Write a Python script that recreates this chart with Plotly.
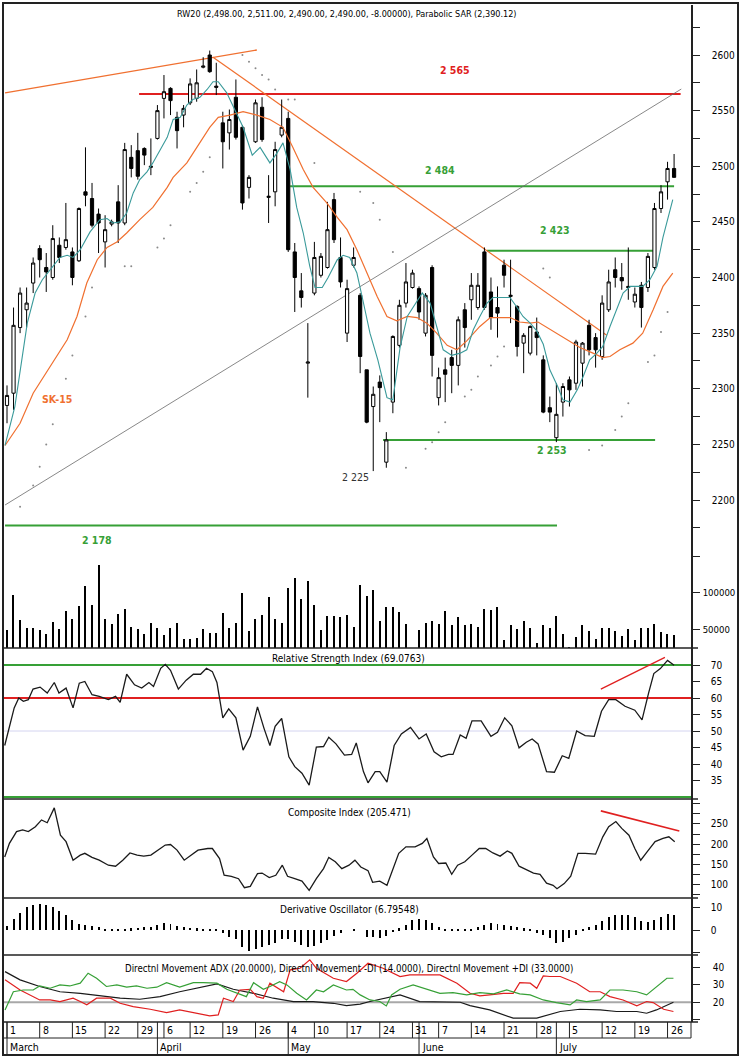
import plotly.graph_objects as go
import pandas as pd

# ---------------------------------------------------------------- data
holidays = ["2010-04-02", "2010-04-05", "2010-05-03", "2010-06-03"]
dates = [d for d in pd.bdate_range("2010-03-01", "2010-07-27")
         if d.strftime("%Y-%m-%d") not in holidays]
day_idx = list(range(len(dates)))

open_ = [2285, 2296, 2355, 2371, 2395, 2426, 2409, 2400, 2429, 2427,
         2423, 2415, 2477, 2471, 2457, 2432, 2448, 2468, 2449, 2508,
         2514, 2516, 2499, 2525, 2561, 2570, 2544, 2546, 2557, 2561,
         2589, 2600, 2572, 2539, 2530, 2562, 2535, 2481, 2522, 2553,
         2472, 2477, 2528, 2543, 2423, 2388, 2323, 2386, 2402, 2409,
         2470, 2418, 2350, 2411, 2384, 2317, 2284, 2306, 2234, 2288,
         2339, 2377, 2391, 2390, 2350, 2409, 2292, 2317, 2328, 2321,
         2371, 2380, 2373, 2423, 2387, 2373, 2411, 2383, 2374, 2341,
         2332, 2351, 2326, 2283, 2256, 2288, 2308, 2305, 2323, 2357,
         2346, 2329, 2371, 2407, 2400, 2392, 2378, 2393, 2391, 2409,
         2462, 2486, 2498]
high = [2303, 2373, 2391, 2391, 2418, 2429, 2422, 2447, 2436, 2467,
        2427, 2463, 2517, 2485, 2462, 2456, 2452, 2483, 2521, 2519,
        2530, 2517, 2525, 2555, 2582, 2571, 2549, 2555, 2579, 2587,
        2598, 2604, 2593, 2549, 2551, 2578, 2537, 2492, 2560, 2562,
        2492, 2522, 2560, 2549, 2431, 2404, 2359, 2432, 2422, 2468,
        2476, 2436, 2398, 2427, 2386, 2317, 2302, 2312, 2261, 2348,
        2380, 2413, 2407, 2392, 2386, 2411, 2319, 2328, 2335, 2365,
        2377, 2404, 2404, 2427, 2400, 2392, 2416, 2416, 2375, 2350,
        2357, 2364, 2330, 2293, 2305, 2305, 2311, 2344, 2342, 2362,
        2350, 2384, 2407, 2418, 2413, 2427, 2391, 2396, 2422, 2467,
        2483, 2504, 2511]
low = [2269, 2281, 2350, 2355, 2386, 2400, 2387, 2398, 2413, 2425,
       2393, 2414, 2464, 2445, 2422, 2409, 2446, 2431, 2447, 2490,
       2488, 2501, 2492, 2524, 2543, 2546, 2516, 2535, 2555, 2558,
       2588, 2584, 2564, 2498, 2515, 2524, 2461, 2471, 2521, 2522,
       2449, 2464, 2526, 2423, 2369, 2373, 2292, 2384, 2400, 2408,
       2431, 2391, 2342, 2409, 2314, 2269, 2226, 2270, 2229, 2278,
       2337, 2373, 2390, 2362, 2347, 2311, 2285, 2288, 2296, 2303,
       2337, 2362, 2371, 2371, 2353, 2346, 2391, 2359, 2329, 2314,
       2330, 2330, 2278, 2270, 2252, 2275, 2284, 2299, 2302, 2330,
       2319, 2326, 2369, 2391, 2389, 2380, 2373, 2355, 2387, 2407,
       2458, 2470, 2490]
close = [2294, 2357, 2386, 2377, 2413, 2416, 2405, 2435, 2418, 2434,
         2400, 2462, 2474, 2447, 2449, 2443, 2450, 2449, 2515, 2498,
         2491, 2510, 2500, 2550, 2567, 2559, 2532, 2552, 2574, 2575,
         2590, 2585, 2571, 2522, 2542, 2526, 2467, 2490, 2557, 2524,
         2473, 2515, 2535, 2425, 2400, 2382, 2324, 2418, 2419, 2443,
         2434, 2396, 2390, 2418, 2329, 2270, 2295, 2301, 2254, 2347,
         2375, 2396, 2404, 2369, 2384, 2330, 2310, 2313, 2321, 2362,
         2355, 2393, 2393, 2373, 2364, 2368, 2402, 2384, 2338, 2348,
         2356, 2346, 2279, 2279, 2277, 2302, 2299, 2342, 2341, 2335,
         2335, 2377, 2396, 2400, 2397, 2391, 2385, 2373, 2419, 2462,
         2477, 2498, 2490]

volume = [49100, 96800, 62700, 52300, 52300, 49100, 43600, 60500, 50500, 75000,
          64100, 81800, 109100, 83200, 137700, 64100, 57300, 70900, 77700, 53600,
          50500, 43600, 59100, 52300, 42300, 52300, 59100, 36800, 36800, 38600,
          50500, 45500, 45500, 72700, 52300, 59100, 99100, 48200, 64100, 69500,
          93600, 64100, 59100, 105900, 119500, 91400, 115900, 83200, 49100, 68200,
          68600, 67300, 69500, 53600, 110500, 95500, 103600, 61400, 80000, 80900,
          73200, 57300, 25000, 49100, 59100, 61400, 57300, 75000, 55500, 66400,
          55900, 56800, 53600, 77300, 76400, 80900, 35500, 55500, 50500, 61400,
          52300, 31800, 55500, 52300, 68600, 43600, 26400, 40000, 55500, 47700,
          36800, 52300, 52300, 47700, 40900, 50500, 35500, 52300, 52300, 56800,
          46800, 43600, 42300]

# short moving average (teal) and SK-15 (orange)
teal_x = [-0.3, 1.2, 3.1, 4.3, 5.4, 6.6, 8.1, 9.2, 10.1, 11.2, 12.7, 14.2, 15.3, 16.2,
          17.3, 18.3, 19.3, 20.3, 21.4, 22.3, 23.4, 24.5, 25.4, 26.5, 27.5, 28.4, 29.5,
          30.6, 31.5, 32.3, 33.6, 34.6, 36.1, 37.5, 38.7, 40.2, 41.3, 42.2, 43.3, 44.3,
          45.3, 46.3, 47.1, 48.2, 49.1, 50.5, 51.4, 52.4, 53.5, 54.4, 55.5, 56.7, 58.1,
          59.0, 60.1, 61.2, 62.1, 63.5, 64.7, 65.7, 66.7, 68.0, 69.3, 70.3, 71.3, 72.3,
          73.4, 74.3, 75.7, 76.9, 78.0, 78.9, 80.0, 81.0, 82.0, 83.0, 84.2, 85.0, 86.1,
          87.2, 88.1, 89.1, 90.2, 91.1, 92.2, 93.3, 94.2, 95.3, 96.3, 97.2, 98.3, 99.4,
          100.3, 101.8]
teal_v = [2249, 2284, 2359, 2386, 2398, 2407, 2418, 2420, 2418, 2425, 2441, 2452, 2453, 2449,
          2450, 2458, 2476, 2488, 2495, 2503, 2515, 2526, 2542, 2544, 2555, 2560, 2562,
          2569, 2576, 2576, 2566, 2553, 2535, 2510, 2517, 2503, 2512, 2521, 2497, 2463,
          2440, 2410, 2391, 2391, 2400, 2416, 2420, 2418, 2404, 2380, 2350, 2326, 2292,
          2290, 2337, 2365, 2373, 2386, 2377, 2356, 2335, 2330, 2332, 2335, 2353, 2365,
          2377, 2382, 2382, 2382, 2373, 2365, 2359, 2352, 2340, 2317, 2302, 2290, 2288,
          2299, 2311, 2326, 2332, 2338, 2356, 2373, 2386, 2392, 2392, 2392, 2398, 2410,
          2436, 2470]
sk15_x = [-0.3, 2.0, 4.0, 6.6, 9.2, 10.7, 12.2, 13.8, 15.3, 16.8, 18.3, 20.3, 22.3, 24.5,
          25.4, 27.5, 29.5, 31.0, 32.3, 34.1, 36.1, 38.2, 40.2, 42.2, 43.7, 45.3, 46.8,
          48.9, 50.5, 52.0, 53.5, 55.0, 56.6, 58.1, 59.6, 61.2, 62.7, 64.2, 65.7, 67.3,
          68.8, 70.3, 72.3, 73.9, 75.4, 76.9, 78.4, 80.0, 81.2, 82.6, 84.1, 85.6, 87.6,
          89.6, 91.1, 92.2, 93.7, 95.7, 97.2, 98.8, 100.3, 101.8]
sk15_v = [2249, 2269, 2296, 2320, 2344, 2365, 2395, 2416, 2427, 2432, 2440, 2452, 2463, 2481,
          2490, 2503, 2521, 2535, 2544, 2546, 2549, 2546, 2542, 2535, 2517, 2497, 2481,
          2467, 2454, 2443, 2425, 2404, 2383, 2365, 2361, 2365, 2364, 2359, 2350, 2339,
          2335, 2343, 2356, 2364, 2364, 2364, 2360, 2359, 2360, 2355, 2350, 2344, 2337,
          2332, 2328, 2329, 2335, 2341, 2350, 2371, 2392, 2404]

# parabolic SAR dots (subset that is legible)
sar_x = [2, 4, 5, 6, 7, 9, 10, 12, 13, 18, 19, 23, 24, 25, 28, 29, 30, 31,
         36, 37, 38, 39, 40, 41, 43, 44, 47, 54, 56, 57, 59,
         61, 64, 65, 66, 67, 70, 71, 72, 74, 75, 76, 82, 83,
         89, 91, 93, 94, 95, 98, 99, 100, 101]
sar_v = [2194, 2213, 2230, 2250, 2268, 2309, 2330, 2365, 2391, 2410, 2410, 2427, 2435, 2447,
         2477, 2485, 2495, 2508,
         2600, 2594, 2588, 2582, 2578, 2569, 2560, 2560, 2503, 2477, 2467, 2452, 2423,
         2229, 2246, 2252, 2261, 2270, 2293, 2299, 2311, 2321, 2329, 2338, 2408, 2400,
         2245, 2249, 2263, 2275, 2287, 2324, 2330, 2351, 2369]

# support / resistance levels and trend lines
level_val = [2565, 2482, 2424, 2254, 2177]
level_from = [20.2, 43.3, 73.4, 57.5, -0.3]
level_to = [103.0, 102.0, 98.8, 99.1, 84.1]
level_color = ["#e02020", "#36a036", "#36a036", "#36a036", "#36a036"]
level_text = ["2 565", "2 484", "2 423", "2 253", "2 178"]
trend_x0 = [-0.3, 31.5, -0.3]
trend_y0 = [2566, 2598, 2195.5]
trend_x1 = [38.2, 91.7, 103.1]
trend_y1 = [2604.5, 2348, 2569.4]

# RSI
rsi_x = [-0.35, 0.37, 1.1, 1.8, 2.5, 3.26, 3.98, 5.06, 6.15, 7.23,
         7.95, 9.03, 10.1, 11.05, 11.9, 13.0, 14.1, 15.5, 16.6, 17.3,
         18.3, 19.5, 20.6, 21.7, 22.4, 23.5, 24.2, 25.0, 26.2, 27.4,
         28.5, 29.6, 30.5, 31.4, 32.1, 33.0, 33.9, 35.0, 36.1, 37.2,
         38.3, 39.3, 40.2, 41.0, 42.0, 43.1, 44.0, 45.1, 46.2, 47.3,
         48.4, 49.2, 50.3, 51.6, 52.7, 53.4, 54.5, 55.2, 56.3, 57.0,
         58.1, 59.2, 60.3, 61.7, 63.0, 64.1, 65.3, 66.4, 67.5, 68.2,
         69.3, 70.2, 71.1, 72.5, 74.0, 75.0, 76.1, 77.2, 78.3, 79.4,
         80.3, 81.2, 82.5, 83.7, 84.9, 85.9, 87.1, 88.4, 89.8, 90.9,
         92.0, 93.1, 94.5, 96.0, 97.1, 98.1, 98.9, 99.9, 101.0, 102.0]
rsi_v = [45.6, 51.6, 57, 60, 59, 59.5, 62.7, 63.3, 61.5, 64.7,
         61.5, 63, 57, 64.5, 65, 61, 60.5, 59.5, 60.5, 58.7,
         67.2, 64, 63, 64.7, 63.5, 69, 70.2, 68.4, 62.7, 65.4,
         67.2, 67.2, 69, 68, 64.7, 54, 56.7, 54, 44.2, 48.4,
         57.3, 50.8, 45.6, 51.4, 53.8, 42.2, 39.2, 37.2, 33.6, 45.1,
         45.3, 48.1, 46.1, 42.7, 42.9, 46.4, 37.7, 34.3, 37.7, 37.7,
         34.5, 45.6, 49.1, 51.1, 47.6, 49.1, 43.7, 42.2, 42.9, 42.9,
         48.8, 47.8, 53.1, 53.1, 48.4, 49.6, 54, 51.6, 44.9, 46.6,
         47.6, 46.1, 37.7, 37.5, 42.5, 41.7, 50, 48.6, 48.4, 56,
         59.5, 59.5, 57.5, 56.3, 53.4, 61.5, 67.4, 68.9, 71.4, 69.9]
rsi_levels = [70, 60, 50, 30]
rsi_level_colors = ["#36a036", "#e02020", "#d4d4f0", "#36a036"]
rsi_trend = ([90.8, 100.6], [62.7, 72.3])

# Composite index
comp_x = [-0.35, 0.37, 1.46, 2.39, 3.26, 4.34, 5.28, 6.15, 7.23, 8.17,
          9.03, 10.1, 11.2, 11.9, 13.0, 14.1, 15.5, 16.6, 17.7, 18.8,
          19.9, 20.9, 22.0, 23.1, 24.2, 25.0, 26.0, 27.1, 28.1, 29.2,
          30.7, 31.4, 32.5, 33.2, 34.3, 35.4, 36.3, 37.2, 38.3, 39.0,
          40.1, 41.1, 42.1, 42.9, 44.0, 45.1, 46.2, 47.3, 48.4, 49.2,
          50.2, 51.2, 52.3, 53.2, 54.1, 55.2, 55.9, 57.0, 58.1, 59.2,
          59.9, 61.0, 62.4, 63.5, 64.2, 65.2, 66.0, 67.1, 68.0, 68.9,
          70.0, 71.1, 72.2, 73.2, 74.3, 75.4, 76.5, 77.2, 78.3, 79.4,
          80.5, 81.5, 82.5, 83.5, 84.1, 85.2, 86.2, 87.3, 88.4, 90.0,
          91.1, 92.0, 93.1, 94.0, 95.1, 96.0, 96.9, 97.9, 99.1, 100.3, 101.2, 102.1]
comp_v = [168, 201.7, 231, 235, 231, 243, 260, 253, 290, 222,
          206, 160, 172.5, 177, 167, 160, 147.5, 145, 160, 178,
          172.5, 170, 172.5, 185, 197.5, 199, 185, 160, 172.5, 185,
          189, 189, 164, 122.5, 120, 114, 91.7, 95, 126.7, 128,
          116.7, 122.5, 147.5, 120, 114, 108, 85, 114, 139, 167,
          156, 139, 147.5, 160, 143, 134, 105, 108, 97.5, 147.5,
          177, 193, 193, 201.7, 214, 168, 151.7, 153, 125, 147.5,
          156, 172.5, 189, 189, 178, 170, 183, 177, 145, 136.7,
          128, 125, 103, 97.5, 89, 101.7, 120, 177, 177, 175,
          218, 243, 256, 239, 222, 189, 160, 181, 206, 214, 218, 205.5]
comp_trend = ([90.8, 102.8], [282.5, 232.5])

# Derivative oscillator (one bar per day)
deriv = [1.8, 4.7, 7.4, 10, 11.2, 11.5, 11, 10, 8.5, 6.6,
         4.4, 2.6, 2.2, 1.8, 1.2, 0.2, 0.6, 0.3, 0.1, 0.7,
         1.0, 1.3, 1.5, 2.0, 2.9, 2.6, 1.8, 1.3, 0.9, 0.7,
         0.6, 0.4, 0.4, -1.5, -3, -4, -7.4, -9.1, -8.5, -7.6,
         -6.6, -5.6, -4.1, -4.1, -5.1, -6.6, -7.4, -7.1, -5.9, -4.4,
         -2.6, -1.2, 0, 0.3, 0, -3, -3.2, -3.7, -2.6, -0.7,
         0.7, 2.2, 4.4, 4.7, 4.4, 3.2, 1.5, 0.6, 0.4, 0.4,
         0.2, 0.3, 1.5, 2.2, 2.9, 2.6, 2.2, 1.8, 1.3, 0.7,
         0.1, -1.2, -2.2, -3.7, -5.6, -5.1, -3.7, -2.2, 0.1, 1.5,
         2.2, 4.1, 5.9, 6.6, 6.6, 6.6, 5.6, 4.1, 3.7, 4.4,
         5.9, 7.0, 6.8]

# Directional movement
adx_x = [-0.3, 2.0, 5.0, 8.1, 11.2, 14.2, 17.3, 20.3, 23.4, 26.4, 29.5, 32.1, 34.6, 37.7,
         40.7, 43.8, 46.8, 49.9, 51.9, 54.0, 55.5, 58.6, 60.1, 63.1, 69.3, 70.8, 73.8,
         77.4, 81.0, 84.6, 87.6, 90.7, 93.2, 96.3, 97.8, 99.3, 101.9]
adx_v = [37.5, 32.8, 29, 26, 25.1, 23.6, 22.3, 21.7, 23.2, 26, 28.6, 30.5, 27.4, 25.1,
         22.3, 20.4, 20.4, 19.4, 18.1, 18.9, 20.4, 23.2, 24.2, 20.4, 20, 18.1, 15.6,
         10.9, 10.9, 14.7, 16, 15.6, 14.7, 14.7, 13.7, 15.6, 20]
mdi_x = [-0.3, 2.0, 5.0, 6.6, 8.1, 9.1, 10.1, 11.2, 12.2, 13.7, 15.8, 17.3, 19.3, 21.9,
         24.4, 26.4, 28.5, 31.0, 32.3, 33.1, 34.6, 35.6, 37.2, 38.2, 39.2, 40.2, 42.3,
         43.3, 44.8, 46.3, 47.3, 48.9, 49.9, 51.9, 53.5, 55.2, 57.5, 60.1, 61.6, 66.2,
         68.8, 70.8, 72.3, 73.8, 75.9, 77.4, 78.4, 80.0, 81.0, 82.0, 83.0, 84.6, 87.1,
         89.1, 90.7, 92.2, 94.2, 96.3, 97.8, 98.8, 100.4, 101.9]
mdi_v = [32.8, 27, 21.3, 21.3, 20.4, 21.3, 22.3, 20.4, 18.5, 22.3, 22.3, 19.4, 17.5, 16,
         14.1, 15.6, 14.1, 12.2, 12.8, 22.3, 20.4, 27, 27.4, 23.2, 22.3, 30.9, 26,
         38.5, 39.4, 44.2, 39.4, 35.6, 33.7, 31.8, 36.6, 42.3, 39.4, 34.7, 35.6, 35.6,
         30.9, 25.1, 23.6, 24.2, 25.1, 25.1, 31.2, 30.9, 28, 35, 34.7, 34.7, 30.9,
         26, 26, 23.2, 21.3, 17.9, 20.4, 19.8, 16, 14.7]
pdi_x = [-0.3, 0.97, 2.5, 4.0, 5.0, 6.6, 8.1, 9.6, 11.2, 12.4, 13.7, 15.2, 16.8, 18.3,
         19.8, 21.4, 22.9, 24.4, 26.4, 28.5, 30.0, 32.1, 33.6, 35.1, 36.6, 37.7, 39.2,
         40.2, 41.7, 42.8, 44.3, 45.8, 47.3, 48.4, 49.9, 51.9, 52.9, 54.0, 55.5, 57.0,
         58.0, 58.8, 60.1, 62.1, 64.2, 66.2, 68.2, 70.3, 72.3, 74.4, 76.4, 78.4, 80.0,
         82.0, 84.0, 86.1, 87.1, 88.6, 90.7, 92.2, 94.2, 96.3, 97.8, 99.3, 100.9, 101.9]
pdi_v = [15.6, 26, 27, 27, 29.3, 28, 29.9, 29.3, 30.9, 36.6, 33.7, 29, 29.9, 28.6,
         29.3, 28, 28.6, 31.2, 28.6, 31.2, 31.2, 30.9, 27.4, 25.5, 23.2, 31.2, 27.4,
         29, 31.8, 29.9, 25.1, 21.3, 27, 26, 29.9, 27, 27.4, 24.2, 21.3, 20.4,
         17.9, 24.2, 27.4, 29.9, 27.4, 25.1, 25.5, 24.2, 25.5, 24.8, 27, 24.8, 24.2,
         21.3, 19.8, 18.5, 21.3, 20.4, 21.3, 27, 27, 26, 24.2, 29, 33.7, 33.7]

# date axis labels
day_ticks = ["2010-03-01", "2010-03-08", "2010-03-15", "2010-03-22", "2010-03-29",
             "2010-04-06", "2010-04-12", "2010-04-19", "2010-04-26", "2010-05-04",
             "2010-05-10", "2010-05-17", "2010-05-24", "2010-05-31", "2010-06-07",
             "2010-06-14", "2010-06-21", "2010-06-28", "2010-07-05", "2010-07-12",
             "2010-07-19", "2010-07-26"]
month_names = ["March", "April", "May", "June", "July"]

# ---------------------------------------------------------------- layout helpers
W, H = 740, 1057
FONT = "Liberation Sans Narrow, Arial Narrow, DejaVu Sans Condensed, Liberation Sans, sans-serif"
ORANGE = "#f07030"
TEAL = "#3a9a9a"
GREEN = "#36a036"
RED = "#e02020"


def py(p):
    return 1 - p / H


def pxx(p):
    return p / W


PLOT_L, PLOT_R = 4, 691
FIRST, STEP = 7, 6.54
x_range = [(PLOT_L - FIRST) / STEP, (PLOT_R - FIRST) / STEP]

date_strs = [d.strftime("%Y-%m-%d") for d in dates]
pos_of = {s: i for i, s in enumerate(date_strs)}

fig = go.Figure()

# price panel
fig.add_trace(go.Candlestick(
    x=day_idx, open=open_, high=high, low=low, close=close,
    increasing=dict(fillcolor="white", line=dict(color="black", width=1)),
    decreasing=dict(fillcolor="black", line=dict(color="black", width=1)),
    whiskerwidth=0, showlegend=False, hoverinfo="skip", xaxis="x", yaxis="y"))
fig.add_trace(go.Scatter(x=sk15_x, y=sk15_v, mode="lines",
                         line=dict(color=ORANGE, width=1.2), xaxis="x", yaxis="y",
                         showlegend=False, hoverinfo="skip"))
fig.add_trace(go.Scatter(x=teal_x, y=teal_v, mode="lines",
                         line=dict(color=TEAL, width=1.1), xaxis="x", yaxis="y",
                         showlegend=False, hoverinfo="skip"))
fig.add_trace(go.Scatter(x=sar_x, y=sar_v, mode="markers",
                         marker=dict(color="#8a8a8a", size=2), xaxis="x", yaxis="y",
                         showlegend=False, hoverinfo="skip"))

# volume
fig.add_trace(go.Bar(x=day_idx, y=volume, width=0.17, marker=dict(color="black", line=dict(width=0)),
                     xaxis="x", yaxis="y2", showlegend=False, hoverinfo="skip"))
# RSI
fig.add_trace(go.Scatter(x=rsi_x, y=rsi_v, mode="lines", line=dict(color="#1a1a1a", width=1.3),
                         xaxis="x", yaxis="y3", showlegend=False, hoverinfo="skip"))
fig.add_trace(go.Scatter(x=rsi_trend[0], y=rsi_trend[1], mode="lines", line=dict(color=RED, width=1.3),
                         xaxis="x", yaxis="y3", showlegend=False, hoverinfo="skip"))
# Composite
fig.add_trace(go.Scatter(x=comp_x, y=comp_v, mode="lines", line=dict(color="#1a1a1a", width=1.3),
                         xaxis="x", yaxis="y4", showlegend=False, hoverinfo="skip"))
fig.add_trace(go.Scatter(x=comp_trend[0], y=comp_trend[1], mode="lines", line=dict(color=RED, width=1.6),
                         xaxis="x", yaxis="y4", showlegend=False, hoverinfo="skip"))
# Derivative oscillator
fig.add_trace(go.Bar(x=day_idx, y=deriv, width=0.15, marker=dict(color="black", line=dict(width=0)),
                     xaxis="x", yaxis="y5", showlegend=False, hoverinfo="skip"))
# DMI
fig.add_trace(go.Scatter(x=adx_x, y=adx_v, mode="lines", line=dict(color="#1a1a1a", width=1.2),
                         xaxis="x", yaxis="y6", showlegend=False, hoverinfo="skip"))
fig.add_trace(go.Scatter(x=mdi_x, y=mdi_v, mode="lines", line=dict(color=RED, width=1.2),
                         xaxis="x", yaxis="y6", showlegend=False, hoverinfo="skip"))
fig.add_trace(go.Scatter(x=pdi_x, y=pdi_v, mode="lines", line=dict(color=GREEN, width=1.2),
                         xaxis="x", yaxis="y6", showlegend=False, hoverinfo="skip"))

shapes = []
annotations = []

# levels and trend lines on price
for v, a, b, c in zip(level_val, level_from, level_to, level_color):
    shapes.append(dict(type="line", xref="x", yref="y", x0=a, x1=b, y0=v, y1=v,
                       line=dict(color=c, width=2), layer="below"))
trend_colors = [ORANGE, ORANGE, "#6a6a6a"]
trend_widths = [1.4, 1.2, 0.8]
for x0, y0, x1, y1, c, w in zip(trend_x0, trend_y0, trend_x1, trend_y1, trend_colors, trend_widths):
    shapes.append(dict(type="line", xref="x", yref="y", x0=x0, x1=x1, y0=y0, y1=y1,
                       line=dict(color=c, width=w), layer="below"))

# RSI levels
for v, c in zip(rsi_levels, rsi_level_colors):
    shapes.append(dict(type="line", xref="x", yref="y3", x0=x_range[0], x1=x_range[1], y0=v, y1=v,
                       line=dict(color=c, width=1.8 if c != "#d4d4f0" else 1), layer="below"))
# DMI reference line
shapes.append(dict(type="line", xref="x", yref="y6", x0=x_range[0], x1=x_range[1], y0=20, y1=20,
                   line=dict(color="#a8a8a8", width=2), layer="below"))

# panel separators
for p in [648, 799, 898, 955, 1022]:
    shapes.append(dict(type="line", xref="paper", yref="paper", x0=pxx(PLOT_L), x1=pxx(698),
                       y0=py(p), y1=py(p), line=dict(color="#222", width=1.5)))
# date axis rows
shapes.append(dict(type="line", xref="paper", yref="paper", x0=pxx(PLOT_L), x1=pxx(PLOT_R),
                   y0=py(1038), y1=py(1038), line=dict(color="#222", width=1)))
shapes.append(dict(type="line", xref="paper", yref="paper", x0=pxx(PLOT_R), x1=pxx(PLOT_R),
                   y0=py(1038), y1=py(1022), line=dict(color="#222", width=1)))
for s in day_ticks:
    i = pos_of[s]
    shapes.append(dict(type="line", xref="x", yref="y7", x0=i, x1=i, y0=0.53, y1=1,
                       line=dict(color="#222", width=1)))
    annotations.append(dict(x=i, y=0.765, xref="x", yref="y7", text=str(int(s[-2:])),
                            showarrow=False, xanchor="left", xshift=1,
                            font=dict(family=FONT, size=10.5, color="black")))
months_seen = []
for i, s in enumerate(date_strs):
    m = s[5:7]
    if m not in months_seen:
        months_seen.append(m)
        shapes.append(dict(type="line", xref="x", yref="y7", x0=i, x1=i, y0=0, y1=1,
                           line=dict(color="#222", width=1)))
        annotations.append(dict(x=i, y=0.265, xref="x", yref="y7",
                                text=month_names[len(months_seen) - 1],
                                showarrow=False, xanchor="left", xshift=1,
                                font=dict(family=FONT, size=10.5, color="black")))
# outer frame
shapes.append(dict(type="rect", xref="paper", yref="paper", x0=pxx(3), x1=pxx(738),
                   y0=py(1055), y1=py(3), line=dict(color="#222", width=2)))


def note(text, xp, ypx, color="black", size=10, bold=False):
    annotations.append(dict(x=pxx(xp), y=py(ypx), xref="paper", yref="paper",
                            text=("<b>%s</b>" % text) if bold else text, showarrow=False,
                            xanchor="center", yanchor="middle",
                            font=dict(family=FONT, size=size, color=color)))


note("RW20 (2,498.00, 2,511.00, 2,490.00, 2,490.00, -8.00000), Parabolic SAR (2,390.12)", 347, 14, size=9)
note("Relative Strength Index (69.0763)", 348, 658, size=10)
note("Composite Index (205.471)", 349, 812, size=10)
note("Derivative Oscillator (6.79548)", 349, 909, size=10)
note("Directnl Movement ADX (20.0000), Directnl Movement -DI (14.0000), Directnl Movement +DI (33.0000)",
     349, 968, size=9.6)
label_pos = [(455, 70), (440, 170), (555, 230), (552, 450), (97, 540)]
for t, c, (xp, yp) in zip(level_text, level_color, label_pos):
    note(t, xp, yp, color=c, size=10.5, bold=True)
note("2 225", 355, 477, color="#333", size=10.5)
note("SK-15", 57, 399, color=ORANGE, size=10.5, bold=True)

axis_common = dict(side="right", anchor="x", showline=True, linecolor="#222", linewidth=1.5,
                   ticks="outside", ticklen=7, tickcolor="#222", showgrid=False, zeroline=False,
                   fixedrange=True)
tf = dict(family=FONT, size=10, color="black")

fig.update_layout(
    width=W, height=H, margin=dict(l=0, r=0, t=0, b=0),
    paper_bgcolor="white", plot_bgcolor="rgba(0,0,0,0)",
    showlegend=False, bargap=0,
    xaxis=dict(domain=[pxx(PLOT_L), pxx(PLOT_R)], range=x_range, visible=False,
               rangeslider=dict(visible=False), fixedrange=True),
    yaxis=dict(domain=[py(648), py(5)], range=[2066.97, 2644.94],
               tickvals=list(range(2200, 2601, 50)),
               minor=dict(tickvals=list(range(2175, 2626, 50)), ticks="outside", ticklen=7,
                          tickcolor="#222"),
               tickfont=tf, ticklabelstandoff=10, **axis_common),
    yaxis2=dict(domain=[py(648), py(540)], range=[24450, 171990],
                tickvals=[50000, 100000, 150000], ticktext=["50000", "100000", ""],
                tickfont=dict(family=FONT, size=9.5, color="black"), ticklabelstandoff=1,
                **axis_common),
    yaxis3=dict(domain=[py(799), py(648)], range=[29.4, 75.15],
                tickvals=[35, 40, 45, 50, 55, 60, 65, 70], tickfont=tf, ticklabelstandoff=9,
                **axis_common),
    yaxis4=dict(domain=[py(898), py(799)], range=[66, 312],
                tickvals=[100, 150, 200, 250],
                minor=dict(tickvals=[75, 125, 175, 225, 275, 300], ticks="outside", ticklen=7,
                           tickcolor="#222"),
                tickfont=tf, ticklabelstandoff=9, **axis_common),
    yaxis5=dict(domain=[py(955), py(898)], range=[-11, 14.1],
                tickvals=[-10, 0, 10], ticktext=["", "0", "10"], tickfont=tf,
                ticklabelstandoff=9, **axis_common),
    yaxis6=dict(domain=[py(1022), py(955)], range=[8.7, 47],
                tickvals=[10, 20, 30, 40], ticktext=["", "20", "30", "40"], tickfont=tf,
                ticklabelstandoff=11, **axis_common),
    yaxis7=dict(domain=[py(1056), py(1022)], range=[0, 1], anchor="x", visible=False,
                fixedrange=True),
    shapes=shapes, annotations=annotations,
)

fig.write_html("out.html")
